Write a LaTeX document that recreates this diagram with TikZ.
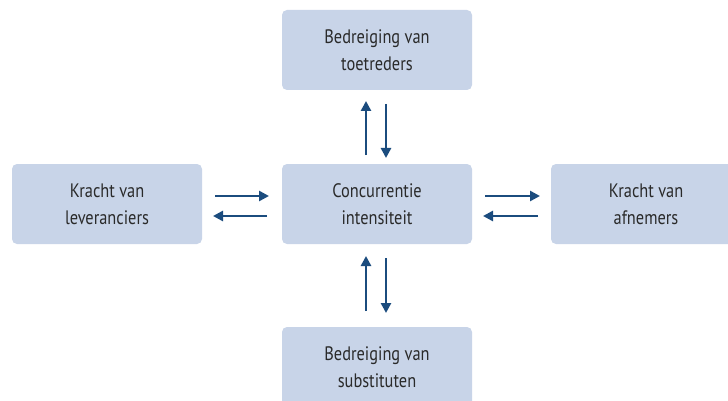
\documentclass[tikz,border=0pt]{standalone}
\usepackage{fontspec}
\setmainfont[FakeStretch=0.84]{PT Sans}
\usetikzlibrary{arrows.meta}
\definecolor{boxfill}{HTML}{C8D4E8}
\definecolor{arrowblue}{HTML}{1B4C7E}
\definecolor{textgrey}{HTML}{2A2A2A}
\begin{document}
\begin{tikzpicture}[x=1pt,y=1pt,
  force/.style={fill=boxfill, draw=none, rounded corners=5pt, align=center,
    text=textgrey, font=\fontsize{19.5}{27}\selectfont, inner sep=0pt,
    minimum width=190pt, minimum height=80pt},
  flow/.style={draw=arrowblue, line width=2.8pt,
    -{Triangle[length=10pt,width=10pt]}}]
  \useasboundingbox (0,0) rectangle (728,-401);
  \fill[white] (0,0) rectangle (728,-401);
  % boxes
  \node[force] (top) at (377,-50) {Bedreiging van\\toetreders};
  \node[force] (mid) at (377,-204) {Concurrentie\\intensiteit};
  \node[force] (left) at (107,-204) {Kracht van\\leveranciers};
  \node[force] (right) at (646,-204) {Kracht van\\afnemers};
  \node[force] (bot) at (377,-367) {Bedreiging van\\substituten};
  % arrow end points
  \coordinate (tu1) at (366,-155); \coordinate (tu2) at (366,-101);
  \coordinate (td1) at (386,-104); \coordinate (td2) at (386,-158);
  \coordinate (bu1) at (366,-311); \coordinate (bu2) at (366,-256);
  \coordinate (bd1) at (386,-258); \coordinate (bd2) at (386,-313);
  \coordinate (lr1) at (215,-196); \coordinate (lr2) at (269,-196);
  \coordinate (ll1) at (267,-216); \coordinate (ll2) at (213,-216);
  \coordinate (rr1) at (485,-196); \coordinate (rr2) at (540,-196);
  \coordinate (rl1) at (538,-216); \coordinate (rl2) at (483,-216);
  % connectors
  \draw[flow] (tu1) -- (tu2);
  \draw[flow] (td1) -- (td2);
  \draw[flow] (bu1) -- (bu2);
  \draw[flow] (bd1) -- (bd2);
  \draw[flow] (lr1) -- (lr2);
  \draw[flow] (ll1) -- (ll2);
  \draw[flow] (rr1) -- (rr2);
  \draw[flow] (rl1) -- (rl2);
\end{tikzpicture}
\end{document}
